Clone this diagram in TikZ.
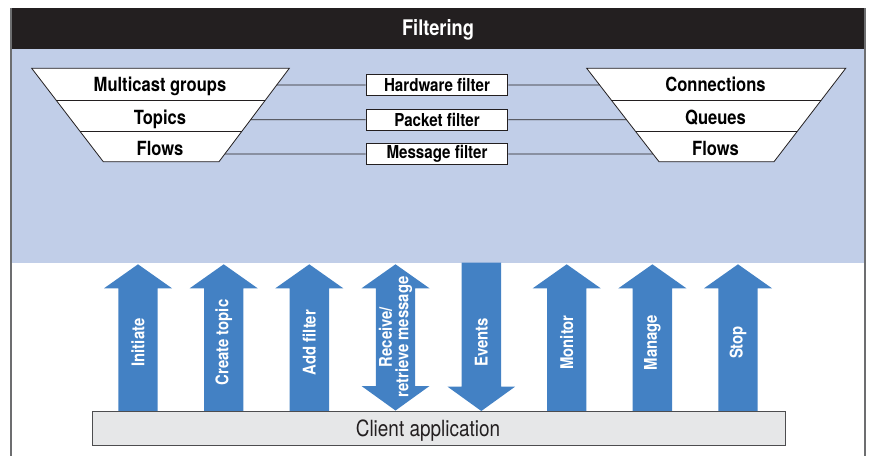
\documentclass[tikz,border=0pt]{standalone}
\usepackage{fontspec}
\setmainfont{TeX Gyre Heros}[FakeStretch=0.85]
\usetikzlibrary{calc}
\definecolor{hdr}{HTML}{231F20}
\definecolor{bluebg}{HTML}{C1CEE8}
\definecolor{arrblue}{HTML}{4381C4}
\definecolor{boxfill}{HTML}{E6E7E8}
\definecolor{boxline}{HTML}{4D4D4F}
\definecolor{framecol}{HTML}{6D6E70}
\tikzset{
  frameline/.style={draw=framecol, line width=1.4pt},
  trap/.style={draw=hdr, fill=white, line width=0.8pt},
  trtxt/.style={font=\bfseries\fontsize{19.5}{20}\selectfont, anchor=base, inner sep=0pt},
  fbox/.style={draw=hdr, fill=white, line width=0.9pt, minimum width=141.7pt, minimum height=21.4pt, inner sep=0pt, font=\bfseries\fontsize{17.8}{18}\selectfont},
  conn/.style={draw=hdr, line width=0.8pt},
  arrfill/.style={fill=arrblue},
  arrtxt/.style={white, rotate=90, font=\bfseries\fontsize{17.5}{16.5}\selectfont, align=center, inner sep=0pt},
}
\begin{document}
\begin{tikzpicture}[x=1pt,y=-1pt]
\useasboundingbox (0,0) rectangle (869,456);
% backgrounds
\fill[bluebg] (11,49) rectangle (865,262.7);
\fill[hdr] (11,8.3) rectangle (865,49);
\draw[frameline] (11,8.3) -- (11,456);
\draw[frameline] (865,8.3) -- (865,456);
\node[white, font=\bfseries\fontsize{21.5}{22}\selectfont, anchor=base, inner sep=0pt] (title) at (438,35) {Filtering};

% left trapezoid
\coordinate (ltl) at (31.7,68.3);
\coordinate (ltr) at (289.3,68.3);
\coordinate (lbr) at (219,161.7);
\coordinate (lbl) at (103.3,161.7);
\draw[trap] (ltl) -- (ltr) -- (lbr) -- (lbl) -- cycle;
\draw[trap] ($(ltl)!0.339!(lbl)$) -- ($(ltr)!0.339!(lbr)$);
\draw[trap] ($(ltl)!0.679!(lbl)$) -- ($(ltr)!0.679!(lbr)$);
\node[trtxt] (mg) at (160,91.7) {Multicast groups};
\node[trtxt] (tp) at (160,124) {Topics};
\node[trtxt] (fl) at (160,155.7) {Flows};

% right trapezoid
\coordinate (rtl) at (586.7,68.3);
\coordinate (rtr) at (845.7,68.3);
\coordinate (rbr) at (774,161.7);
\coordinate (rbl) at (659,161.7);
\draw[trap] (rtl) -- (rtr) -- (rbr) -- (rbl) -- cycle;
\draw[trap] ($(rtl)!0.339!(rbl)$) -- ($(rtr)!0.339!(rbr)$);
\draw[trap] ($(rtl)!0.679!(rbl)$) -- ($(rtr)!0.679!(rbr)$);
\node[trtxt] (cn) at (715.5,91.7) {Connections};
\node[trtxt] (qu) at (715.5,124) {Queues};
\node[trtxt] (fr) at (715.5,155.7) {Flows};

% filter boxes
\node[fbox] (hw) at (437,85) {Hardware filter};
\node[fbox] (pk) at (437,119.7) {Packet filter};
\node[fbox] (ms) at (437,154) {Message filter};

\coordinate (L1) at ($(ltr)!0.179!(lbr)$);
\coordinate (L2) at ($(ltr)!0.550!(lbr)$);
\coordinate (L3) at ($(ltr)!0.918!(lbr)$);
\coordinate (R1) at ($(rtl)!0.179!(rbl)$);
\coordinate (R2) at ($(rtl)!0.550!(rbl)$);
\coordinate (R3) at ($(rtl)!0.918!(rbl)$);
\draw[conn] (L1) -- (hw.west);
\draw[conn] (hw.east) -- (R1);
\draw[conn] (L2) -- (pk.west);
\draw[conn] (pk.east) -- (R2);
\draw[conn] (L3) -- (ms.west);
\draw[conn] (ms.east) -- (R3);

% up arrows
\foreach \cx/\nm/\lbl in {138/a1/Initiate, 223.7/a2/Create topic, 309.3/a3/Add filter, 566.7/a6/Monitor, 652.4/a7/Manage, 738/a8/Stop}{
  \fill[arrfill] (\cx,264.3) -- (\cx+34,288.3) -- (\cx+19.7,288.3) -- (\cx+19.7,412) -- (\cx-19.7,412) -- (\cx-19.7,288.3) -- (\cx-34,288.3) -- cycle;
  \node[arrtxt] (\nm) at (\cx,342.5) {\lbl};
}
% double arrow
\fill[arrfill] (395.5,264.3) -- (429.5,288.3) -- (415.2,288.3) -- (415.2,386) -- (429.5,386) -- (395.5,410.5) -- (361.5,386) -- (375.8,386) -- (375.8,288.3) -- (361.5,288.3) -- cycle;
\node[arrtxt] (a4) at (395.5,337) {Receive/\\retrieve message};
% down arrow
\fill[arrfill] (461.6,262.7) -- (501,262.7) -- (501,386.7) -- (515,386.7) -- (481.3,411) -- (447.6,386.7) -- (461.6,386.7) -- cycle;
\node[arrtxt] (a5) at (481.3,342.5) {Events};

% client application
\node[draw=boxline, fill=boxfill, line width=1.3pt, minimum width=693pt, minimum height=33.5pt, inner sep=0pt, anchor=north west] (client) at (92,411) {};
\node[font=\fontsize{22.3}{23}\selectfont, anchor=base, inner sep=0pt, text=hdr] (clt) at (428,436) {Client application};
\end{tikzpicture}
\end{document}
